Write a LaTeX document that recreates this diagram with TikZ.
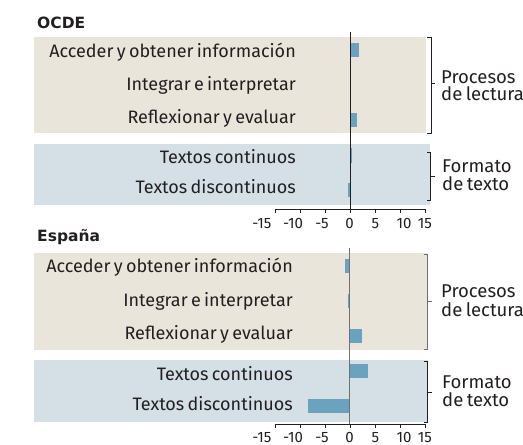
\documentclass[tikz,border=0pt]{standalone}
\usepackage{fontspec}
\setmainfont{Fira Sans}[WordSpace=0.7]
\newfontfamily\ttlfont{DejaVu Sans}
\definecolor{txt}{HTML}{231F20}
\definecolor{beige}{HTML}{E9E5DA}
\definecolor{bgblue}{HTML}{D4DFE6}
\definecolor{bar}{HTML}{6BA3BF}
\definecolor{axgray}{HTML}{707070}
\tikzset{
  rowlab/.style={anchor=base east, inner sep=0pt, text=txt, font=\fontsize{18}{20}\selectfont},
  grplab/.style={anchor=base west, inner sep=0pt, text=txt, font=\fontsize{18.5}{20}\selectfont},
  ticklab/.style={anchor=base, inner sep=0pt, text=txt, font=\fontsize{15}{16}\selectfont},
  ttl/.style={anchor=base west, inner sep=0pt, text=txt, font=\ttlfont\fontsize{15.5}{17}\bfseries\selectfont},
  brk/.style={draw=txt, line width=0.9pt},
  axis/.style={draw=txt, line width=0.9pt}
}
\begin{document}
\begin{tikzpicture}[x=1pt,y=-1pt]
\useasboundingbox (0,0) rectangle (523,445);
% ===== Panel 1: OCDE =====
\node[ttl] (t1) at (37,28) {OCDE};
\fill[beige] (34,37) rectangle (426,133);
\fill[bgblue] (34,144) rectangle (430,205);
% bars (x = 350 + 5*value)
\fill[bar] (350,43) rectangle (358.5,57);
\fill[bar] (350,113) rectangle (356.5,127);
\fill[bar] (350,148) rectangle (351.5,163);
\fill[bar] (348,183) rectangle (350,197);
% labels
\node[rowlab] (a1) at (296,57) {Acceder y obtener información};
\node[rowlab] (b1) at (296,90) {Integrar e interpretar};
\node[rowlab] (c1) at (296,123) {Reflexionar y evaluar};
\node[rowlab] (d1) at (296,163) {Textos continuos};
\node[rowlab] (e1) at (296,193) {Textos discontinuos};
% zero line and axis
\coordinate (z1t) at (350,32);
\coordinate (z1b) at (350,209);
\draw[axis] (z1t) -- (z1b);
\coordinate (x1l) at (275,209);
\coordinate (x1r) at (425,209);
\draw[axis] (x1l) -- (x1r);
\foreach \v in {-15,-10,-5,0,5,10,15}{
  \draw[axis] (350+5*\v,209) -- (350+5*\v,212.5);
}
\node[ticklab] (k1a) at (262,228) {-15};
\node[ticklab] (k1b) at (293,228) {-10};
\node[ticklab] (k1c) at (322,228) {-5};
\node[ticklab] (k1d) at (349.5,228) {0};
\node[ticklab] (k1e) at (375.5,228) {5};
\node[ticklab] (k1f) at (404,228) {10};
\node[ticklab] (k1g) at (425,228) {15};
% brackets
\draw[brk] (427,37) -- (431,37) -- (431,133) -- (427,133);
\draw[brk] (431,83.5) -- (435,83.5);
\draw[brk] (427,152) -- (430.5,152) -- (430.5,200) -- (427,200);
\draw[brk] (430.5,176.5) -- (434.5,176.5);
\node[grplab] (p1a) at (441,83) {Procesos};
\node[grplab] (p1b) at (441,100.7) {de lectura};
\node[grplab] (f1a) at (442,172) {Formato};
\node[grplab] (f1b) at (442,190.7) {de texto};
% ===== Panel 2: España =====
\node[ttl] (t2) at (37,241) {España};
\fill[beige] (34,253) rectangle (427,350);
\fill[bgblue] (34,360) rectangle (428,422);
\fill[bar] (345,259) rectangle (350,273);
\fill[bar] (348,294) rectangle (350,308);
\fill[bar] (350,329) rectangle (362,343);
\fill[bar] (350,364) rectangle (367.5,378);
\fill[bar] (307.5,399) rectangle (350,413);
\node[rowlab] (a2) at (293,272) {Acceder y obtener información};
\node[rowlab] (b2) at (293,306) {Integrar e interpretar};
\node[rowlab] (c2) at (293,339) {Reflexionar y evaluar};
\node[rowlab] (d2) at (293,380) {Textos continuos};
\node[rowlab] (e2) at (293,410) {Textos discontinuos};
\coordinate (z2t) at (349.5,248);
\coordinate (z2b) at (349.5,424);
\draw[draw=axgray, line width=0.9pt] (z2t) -- (z2b);
\coordinate (x2l) at (275,424);
\coordinate (x2r) at (425,424);
\draw[axis] (x2l) -- (x2r);
\foreach \v in {-15,-10,-5,0,5,10,15}{
  \draw[axis] (350+5*\v,424) -- (350+5*\v,427.5);
}
\node[ticklab] (k2a) at (262,442.5) {-15};
\node[ticklab] (k2b) at (293,442.5) {-10};
\node[ticklab] (k2c) at (322,442.5) {-5};
\node[ticklab] (k2d) at (349.5,442.5) {0};
\node[ticklab] (k2e) at (375.5,442.5) {5};
\node[ticklab] (k2f) at (404,442.5) {10};
\node[ticklab] (k2g) at (425,442.5) {15};
\draw[brk, draw=axgray] (424,254) -- (427.7,254) -- (427.7,349) -- (424,349);
\draw[brk, draw=axgray] (427.7,301) -- (431.7,301);
\draw[brk] (424,361) -- (427.7,361) -- (427.7,422.5) -- (424,422.5);
\draw[brk] (427.7,392) -- (431.7,392);
\node[grplab] (p2a) at (441,297) {Procesos};
\node[grplab] (p2b) at (441,316) {de lectura};
\node[grplab] (f2a) at (442,388) {Formato};
\node[grplab] (f2b) at (442,406.7) {de texto};
\end{tikzpicture}
\end{document}
